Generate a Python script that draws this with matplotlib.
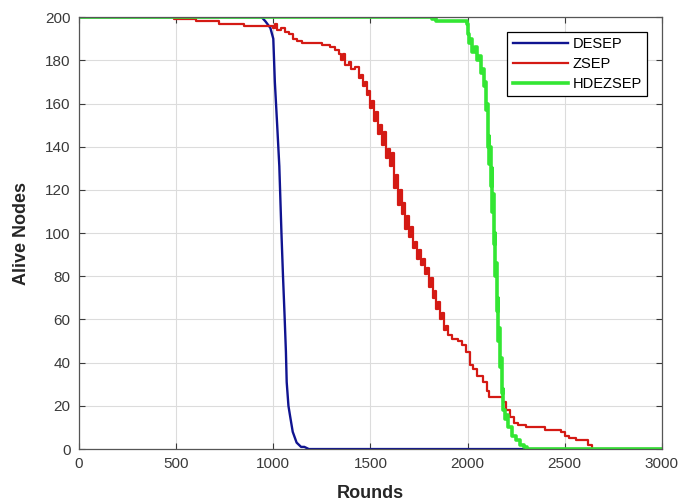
import numpy as np
import matplotlib.pyplot as plt

plt.rcParams['font.family'] = ['Liberation Sans', 'DejaVu Sans']

# ---------------- data ----------------
desep_x = [0, 940, 960, 985, 1000, 1008, 1020, 1031, 1042, 1050, 1058, 1065,
           1069, 1078, 1087, 1100, 1120, 1143, 1160, 1183, 3000]
desep_y = [200, 200, 198, 195, 190, 170, 150, 131, 100, 80, 62, 45,
           31, 20, 15, 8, 3, 1, 1, 0, 0]

zsep_x = [0, 480, 490, 560, 600, 700, 720, 800, 850, 990,
          1000, 1010, 1020, 1040, 1060, 1080, 1100, 1120, 1150, 1200,
          1250, 1290, 1320, 1340, 1350, 1360, 1370, 1390, 1400, 1420,
          1440, 1450, 1460, 1470, 1480, 1490, 1500, 1510, 1520, 1530,
          1540, 1550, 1560, 1570, 1580, 1590, 1600, 1610, 1620, 1630,
          1640, 1650, 1660, 1670, 1680, 1690, 1700, 1710, 1720, 1730,
          1740, 1750, 1760, 1770, 1780, 1790, 1800, 1810, 1820, 1830,
          1840, 1850, 1860, 1870, 1880, 1890, 1900, 1920, 1950, 1970,
          1990, 2010, 2030, 2050, 2080, 2100, 2110, 2160, 2180, 2200,
          2220, 2240, 2260, 2300, 2380, 2400, 2480, 2500, 2520, 2560,
          2600, 2620, 2640, 3000]
zsep_y = [200, 200, 199, 199, 198, 198, 197, 197, 196, 196,
          195, 197, 194, 195, 193, 192, 190, 189, 188, 188,
          187, 186, 185, 183, 180, 183, 178, 179, 176, 177,
          172, 173, 168, 170, 164, 166, 158, 161, 152, 156,
          146, 150, 141, 147, 135, 139, 131, 137, 121, 127,
          113, 120, 109, 114, 102, 108, 98, 103, 93, 96,
          88, 92, 85, 88, 81, 84, 75, 79, 70, 73,
          65, 68, 60, 63, 55, 57, 53, 51, 50, 48,
          45, 39, 37, 34, 31, 27, 24, 24, 22, 18,
          15, 12, 11, 10, 10, 9, 8, 6, 5, 4,
          4, 2, 0, 0]

hdez_x = [0, 1800, 1815, 1825, 1840, 1990, 1995, 2000, 2005, 2015, 2025,
          2040, 2050, 2060, 2070, 2080, 2085, 2090, 2095, 2100, 2105, 2110,
          2112, 2118, 2120, 2125, 2128, 2132, 2135, 2140, 2142, 2146, 2150,
          2155, 2158, 2162, 2165, 2170, 2175, 2180, 2185, 2195, 2200, 2210,
          2230, 2250, 2270, 2290, 2305, 3000]
hdez_y = [200, 200, 199, 200, 198, 198, 197, 192, 188, 190, 184,
          186, 180, 182, 174, 176, 168, 170, 157, 160, 140, 145,
          132, 140, 122, 130, 110, 118, 95, 100, 80, 86, 64,
          70, 50, 56, 38, 42, 26, 28, 18, 14, 16, 10,
          6, 4, 2, 1, 0, 0]

# ---------------- figure ----------------
fig = plt.figure(figsize=(6.83, 5.04), dpi=100)
ax = fig.add_axes([0.1157, 0.109, 0.8533, 0.857])

ax.plot(desep_x, desep_y, color='#101490', lw=1.7, label='DESEP')
ax.plot(zsep_x, zsep_y, color='#d41a14', lw=1.6, label='ZSEP', drawstyle='steps-post')
ax.plot(hdez_x, hdez_y, color='#33e633', lw=2.6, label='HDEZSEP', drawstyle='steps-post')

ax.set_xlim(0, 3000)
ax.set_ylim(0, 200)
ax.set_xticks(np.arange(0, 3001, 500))
ax.set_yticks(np.arange(0, 201, 20))

ax.grid(True, color='#dcdcdc', lw=0.8)
ax.set_axisbelow(True)
ax.tick_params(direction='in', top=True, right=True, labelsize=11,
               colors='#3a3a3a', length=4, pad=6)
for sp in ax.spines.values():
    sp.set_color('#555555')
    sp.set_linewidth(0.9)

ax.set_xlabel('Rounds', fontsize=13, fontweight='bold', color='#262626', labelpad=10)
ax.set_ylabel('Alive Nodes', fontsize=13, fontweight='bold', color='#262626', labelpad=11)

leg = ax.legend(loc='upper right', bbox_to_anchor=(0.974, 0.965), fontsize=10.5,
                handlelength=3.8, fancybox=False, framealpha=1,
                edgecolor='black', borderpad=0.35, labelspacing=0.4,
                handletextpad=0.3, borderaxespad=0)
leg.get_frame().set_linewidth(0.9)

fig.savefig('out.png', dpi=100)
